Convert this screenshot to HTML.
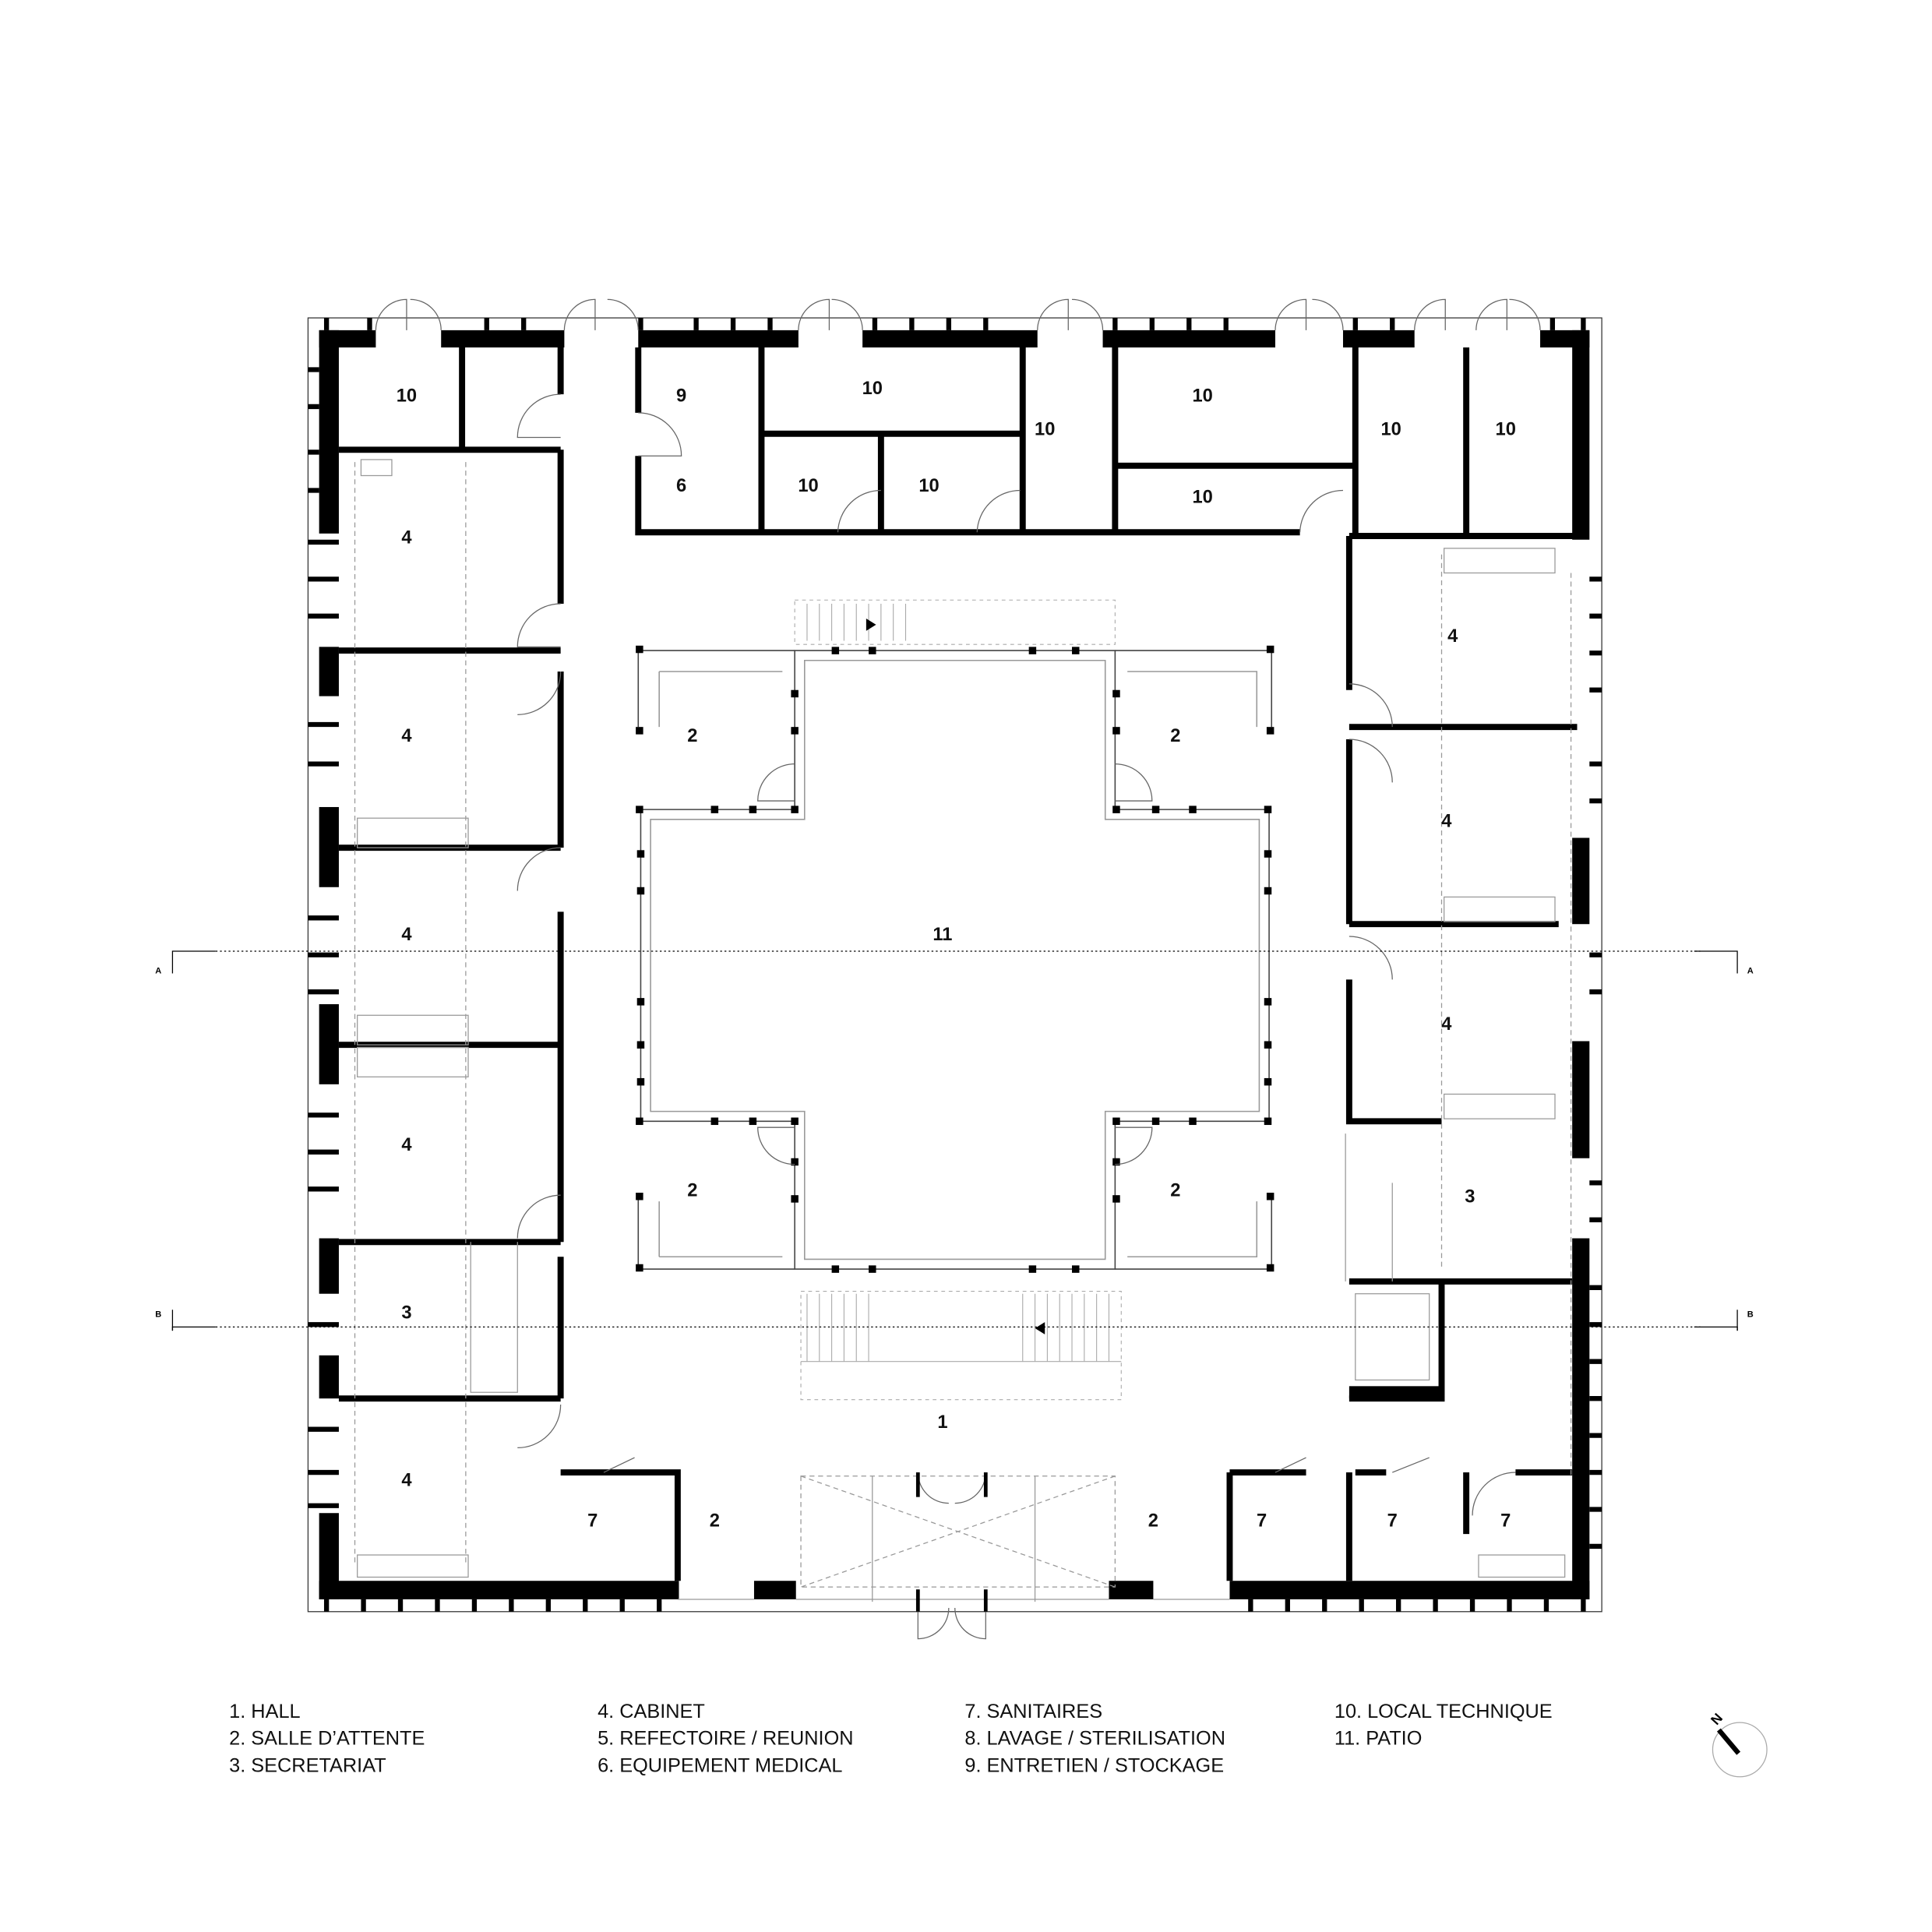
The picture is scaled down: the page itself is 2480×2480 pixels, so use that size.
<!DOCTYPE html>
<html><head><meta charset="utf-8"><style>html,body{margin:0;padding:0;background:#fff}svg{display:block}</style></head>
<body>
<svg width="2480" height="2480" viewBox="0 0 1568 1568" xmlns="http://www.w3.org/2000/svg" font-family="'Liberation Sans Narrow','Liberation Sans',sans-serif">
<rect width="1568" height="1568" fill="#fff"/>
<rect x="250" y="258" width="1050" height="1050" fill="none" stroke="#333" stroke-width="0.8"/>
<g fill="#000">
<rect x="259" y="268" width="16" height="165"/>
<rect x="259" y="525" width="16" height="40"/>
<rect x="259" y="655" width="16" height="65"/>
<rect x="259" y="815" width="16" height="65"/>
<rect x="259" y="1005" width="16" height="45"/>
<rect x="259" y="1100" width="16" height="35"/>
<rect x="259" y="1228" width="16" height="70"/>
<rect x="259" y="268" width="46" height="14"/>
<rect x="358" y="268" width="100" height="14"/>
<rect x="518" y="268" width="130" height="14"/>
<rect x="700" y="268" width="142" height="14"/>
<rect x="895" y="268" width="140" height="14"/>
<rect x="1090" y="268" width="58" height="14"/>
<rect x="1250" y="268" width="40" height="14"/>
<rect x="1276" y="268" width="14" height="170"/>
<rect x="1276" y="680" width="14" height="70"/>
<rect x="1276" y="845" width="14" height="95"/>
<rect x="1276" y="1005" width="14" height="293"/>
<rect x="259" y="1283" width="292" height="15"/>
<rect x="612" y="1283" width="34" height="15"/>
<rect x="900" y="1283" width="36" height="15"/>
<rect x="998" y="1283" width="292" height="15"/>
</g>
<g stroke="#000" stroke-width="4">
<path d="M250 300H259M250 330H259M250 367H259M250 398H259M250 440H275M250 470H275M250 500H275M250 588H275M250 620H275M250 745H275M250 775H275M250 805H275M250 905H275M250 935H275M250 965H275M250 1075H275M250 1160H275M250 1195H275M250 1222H275"/>
<path d="M1290 470H1300M1290 500H1300M1290 530H1300M1290 560H1300M1290 620H1300M1290 650H1300M1290 775H1300M1290 805H1300M1290 960H1300M1290 990H1300M1290 1045H1300M1290 1075H1300M1290 1105H1300M1290 1135H1300M1290 1165H1300M1290 1195H1300M1290 1225H1300M1290 1255H1300"/>
<path d="M265 1298V1308M295 1298V1308M325 1298V1308M355 1298V1308M385 1298V1308M415 1298V1308M445 1298V1308M475 1298V1308M505 1298V1308M535 1298V1308M1015 1298V1308M1045 1298V1308M1075 1298V1308M1105 1298V1308M1135 1298V1308M1165 1298V1308M1195 1298V1308M1225 1298V1308M1255 1298V1308M1285 1298V1308"/>
<path d="M265 258V268M300 258V268M395 258V268M425 258V268M520 258V268M565 258V268M595 258V268M625 258V268M710 258V268M740 258V268M770 258V268M800 258V268M905 258V268M935 258V268M965 258V268M995 258V268M1100 258V268M1130 258V268M1260 258V268M1285 258V268"/>
</g>
<g stroke="#000" stroke-width="5" fill="none">
<path d="M275 365H455M375 282V365M455 282V320M455 365V490M455 545V688M455 740V1008M455 1020V1135M455 1195H550V1283"/>
<path d="M275 528H455M275 688H455M275 848H455M275 1008H455M275 1135H455"/>
<path d="M518 282V335M518 370V432H828M618 282V432M618 352H828M715 352V432M830 282V432H905V282M905 378H1100M905 282V432M1100 282V435M1190 282V435M905 432H1055"/>
<path d="M1095 435H1280M1095 435V560M1095 600V750M1095 795V910H1170M1095 590H1280M1095 750H1265M1095 910H1170"/>
<path d="M1095 1040H1170V1135H1095M1170 1040H1276"/>
<path d="M998 1195H1060M998 1195V1283M1095 1195V1283M1100 1195H1125M1190 1195V1245M1230 1195H1276"/>
</g>
<rect x="1095" y="1125" width="75" height="10" fill="#000"/>
<g stroke="#999" stroke-width="0.8" fill="none">
<path d="M378 375V1270" stroke-dasharray="4 3"/>
<path d="M288 375V1270" stroke-dasharray="4 3"/>
<path d="M1275 465V1200" stroke-dasharray="4 3"/>
<path d="M1170 450V1030" stroke-dasharray="4 3"/>
<rect x="293" y="373" width="25" height="13"/>
<rect x="290" y="664" width="90" height="24"/>
<rect x="290" y="824" width="90" height="24"/>
<rect x="290" y="850" width="90" height="24"/>
<rect x="290" y="1262" width="90" height="18"/>
<rect x="1172" y="445" width="90" height="20"/>
<rect x="1172" y="728" width="90" height="20"/>
<rect x="1172" y="888" width="90" height="20"/>
<rect x="1200" y="1262" width="70" height="18"/>
<path d="M382 1008V1130H420V1008"/>
<path d="M1130 960V1040M1092 920V1040"/>
<rect x="1100" y="1050" width="60" height="70"/>
</g>
<g stroke="#666" stroke-width="0.8" fill="none">
<path d="M455 320A35 35 0 0 0 420 355H455"/>
<path d="M455 490A35 35 0 0 0 420 525H455M455 545A35 35 0 0 1 420 580"/>
<path d="M455 688A35 35 0 0 0 420 723"/>
<path d="M455 970A35 35 0 0 0 420 1005"/>
<path d="M455 1140A35 35 0 0 1 420 1175"/>
<path d="M518 335A35 35 0 0 1 553 370H518"/>
<path d="M715 398A35 35 0 0 0 680 432"/>
<path d="M828 398A35 35 0 0 0 793 432"/>
<path d="M1090 398A35 35 0 0 0 1055 432"/>
<path d="M1095 555A35 35 0 0 1 1130 590M1095 600A35 35 0 0 1 1130 635"/>
<path d="M1095 760A35 35 0 0 1 1130 795"/>
<path d="M305 268A25 25 0 0 1 330 243V268M358 268A25 25 0 0 0 333 243"/>
<path d="M458 268A25 25 0 0 1 483 243V268M518 268A25 25 0 0 0 493 243"/>
<path d="M648 268A25 25 0 0 1 673 243V268M700 268A25 25 0 0 0 675 243"/>
<path d="M842 268A25 25 0 0 1 867 243V268M895 268A25 25 0 0 0 870 243"/>
<path d="M1035 268A25 25 0 0 1 1060 243V268M1090 268A25 25 0 0 0 1065 243"/>
<path d="M1148 268A25 25 0 0 1 1173 243V268M1198 268A25 25 0 0 1 1223 243V268M1250 268A25 25 0 0 0 1225 243"/>
<path d="M745 1300V1330A25 25 0 0 0 770 1305M800 1300V1330A25 25 0 0 1 775 1305"/>
<path d="M745 1195A25 25 0 0 0 770 1220M800 1195A25 25 0 0 1 775 1220"/>
<path d="M515 1183L490 1195M1060 1183L1035 1195M1160 1183L1130 1195"/>
<path d="M1230 1195A35 35 0 0 0 1195 1230"/>
</g>
<g stroke="#999" stroke-width="0.8" fill="none">
<rect x="650" y="1198" width="255" height="90" stroke-dasharray="4 3"/>
<path d="M650 1198L905 1288M905 1198L650 1288" stroke-dasharray="4 3"/>
<path d="M708 1198V1300M840 1198V1300"/>
<path d="M550 1298H612M646 1298H900M936 1298H998"/>
</g>
<g stroke="#000" stroke-width="3"><path d="M745 1195V1215M800 1195V1215M745 1290V1308M800 1290V1308"/></g>
<g stroke="#444" stroke-width="1" fill="none">
<path d="M645 528H905V657H1030V910H905V1030H645V910H520V657H645Z"/>
<path d="M653 536H897V665H1022V902H897V1022H653V902H528V665H653Z" stroke="#999"/>
<path d="M518 528H645M518 528V590M905 528H1032V590M518 1030H645M518 1030V970M905 1030H1032V970"/>
<path d="M535 545H635M535 545V590M915 545H1020V590M535 1020H635M535 1020V975M915 1020H1020V975" stroke="#999"/>
</g>
<g fill="#000">
<rect x="516" y="524" width="6" height="6"/><rect x="516" y="590" width="6" height="6"/><rect x="1028" y="524" width="6" height="6"/><rect x="1028" y="590" width="6" height="6"/>
<rect x="516" y="1026" width="6" height="6"/><rect x="516" y="968" width="6" height="6"/><rect x="1028" y="1026" width="6" height="6"/><rect x="1028" y="968" width="6" height="6"/>
<rect x="516" y="654" width="6" height="6"/><rect x="577" y="654" width="6" height="6"/><rect x="608" y="654" width="6" height="6"/><rect x="642" y="654" width="6" height="6"/>
<rect x="903" y="654" width="6" height="6"/><rect x="935" y="654" width="6" height="6"/><rect x="965" y="654" width="6" height="6"/><rect x="1026" y="654" width="6" height="6"/>
<rect x="516" y="907" width="6" height="6"/><rect x="577" y="907" width="6" height="6"/><rect x="608" y="907" width="6" height="6"/><rect x="642" y="907" width="6" height="6"/>
<rect x="903" y="907" width="6" height="6"/><rect x="935" y="907" width="6" height="6"/><rect x="965" y="907" width="6" height="6"/><rect x="1026" y="907" width="6" height="6"/>
<rect x="675" y="525" width="6" height="6"/><rect x="705" y="525" width="6" height="6"/><rect x="835" y="525" width="6" height="6"/><rect x="870" y="525" width="6" height="6"/>
<rect x="675" y="1027" width="6" height="6"/><rect x="705" y="1027" width="6" height="6"/><rect x="835" y="1027" width="6" height="6"/><rect x="870" y="1027" width="6" height="6"/>
<rect x="642" y="560" width="6" height="6"/><rect x="642" y="590" width="6" height="6"/><rect x="903" y="560" width="6" height="6"/><rect x="903" y="590" width="6" height="6"/>
<rect x="642" y="940" width="6" height="6"/><rect x="642" y="970" width="6" height="6"/><rect x="903" y="940" width="6" height="6"/><rect x="903" y="970" width="6" height="6"/>
<rect x="517" y="690" width="6" height="6"/><rect x="517" y="720" width="6" height="6"/><rect x="517" y="810" width="6" height="6"/><rect x="517" y="845" width="6" height="6"/><rect x="517" y="875" width="6" height="6"/>
<rect x="1026" y="690" width="6" height="6"/><rect x="1026" y="720" width="6" height="6"/><rect x="1026" y="810" width="6" height="6"/><rect x="1026" y="845" width="6" height="6"/><rect x="1026" y="875" width="6" height="6"/>
</g>
<g stroke="#666" stroke-width="0.8" fill="none">
<path d="M645 620A30 30 0 0 0 615 650H645M905 620A30 30 0 0 1 935 650H905"/>
<path d="M645 945A30 30 0 0 1 615 915H645M905 945A30 30 0 0 0 935 915H905"/>
</g>
<g stroke="#aaa" stroke-width="0.7" fill="none">
<rect x="645" y="487" width="260" height="36" stroke-dasharray="3 3"/>
<path d="M655 490V520M665 490V520M675 490V520M685 490V520M695 490V520M705 490V520M715 490V520M725 490V520M735 490V520"/>
<rect x="650" y="1048" width="260" height="88" stroke-dasharray="3 3"/>
<path d="M830 1050V1105M840 1050V1105M850 1050V1105M860 1050V1105M870 1050V1105M880 1050V1105M890 1050V1105M900 1050V1105M655 1050V1105M665 1050V1105M675 1050V1105M685 1050V1105M695 1050V1105M705 1050V1105M650 1105H910"/>
</g>
<path d="M703 502L711 507L703 512Z" fill="#000"/>
<path d="M848 1073L840 1078L848 1083Z" fill="#000"/>
<g stroke="#000" stroke-width="0.8" fill="none">
<path d="M175 772H1380M175 1077H1380" stroke-dasharray="1.5 2"/>
<path d="M140 790V772H175M1410 790V772H1375M140 1080V1077H175M1410 1080V1077H1375"/>
<path d="M140 1080V1063M1410 1080V1063"/>
</g>
<g font-size="7" font-weight="bold" fill="#000"><text x="126" y="790">A</text><text x="1418" y="790">A</text><text x="126" y="1069">B</text><text x="1418" y="1069">B</text></g>
<g font-size="15" font-weight="bold" fill="#111" text-anchor="middle">
<text x="330" y="326">10</text><text x="553" y="326">9</text><text x="553" y="399">6</text><text x="708" y="320">10</text>
<text x="848" y="353">10</text><text x="976" y="326">10</text><text x="976" y="408">10</text><text x="1129" y="353">10</text><text x="1222" y="353">10</text>
<text x="656" y="399">10</text><text x="754" y="399">10</text>
<text x="330" y="441">4</text><text x="330" y="602">4</text><text x="330" y="763">4</text><text x="330" y="934">4</text><text x="330" y="1070">3</text><text x="330" y="1206">4</text>
<text x="1179" y="521">4</text><text x="1174" y="671">4</text><text x="1174" y="836">4</text><text x="1193" y="976">3</text>
<text x="562" y="602">2</text><text x="954" y="602">2</text><text x="562" y="971">2</text><text x="954" y="971">2</text>
<text x="765" y="763">11</text><text x="765" y="1159">1</text>
<text x="580" y="1239">2</text><text x="936" y="1239">2</text>
<text x="481" y="1239">7</text><text x="1024" y="1239">7</text><text x="1130" y="1239">7</text><text x="1222" y="1239">7</text>
</g>
<g font-size="16" fill="#111" font-family="'Liberation Sans',sans-serif">
<text x="186" y="1394">1. HALL</text><text x="186" y="1416">2. SALLE D’ATTENTE</text><text x="186" y="1438">3. SECRETARIAT</text>
<text x="485" y="1394">4. CABINET</text><text x="485" y="1416">5. REFECTOIRE / REUNION</text><text x="485" y="1438">6. EQUIPEMENT MEDICAL</text>
<text x="783" y="1394">7. SANITAIRES</text><text x="783" y="1416">8. LAVAGE / STERILISATION</text><text x="783" y="1438">9. ENTRETIEN / STOCKAGE</text>
<text x="1083" y="1394">10. LOCAL TECHNIQUE</text><text x="1083" y="1416">11. PATIO</text>
</g>
<circle cx="1412" cy="1420" r="22" fill="none" stroke="#aaa" stroke-width="0.8"/>
<path d="M1395 1404L1411 1423" stroke="#000" stroke-width="4"/>
<text x="1393" y="1399" font-size="11" font-weight="bold" transform="rotate(-48 1393 1395)" text-anchor="middle">N</text>
</svg>
</body></html>
